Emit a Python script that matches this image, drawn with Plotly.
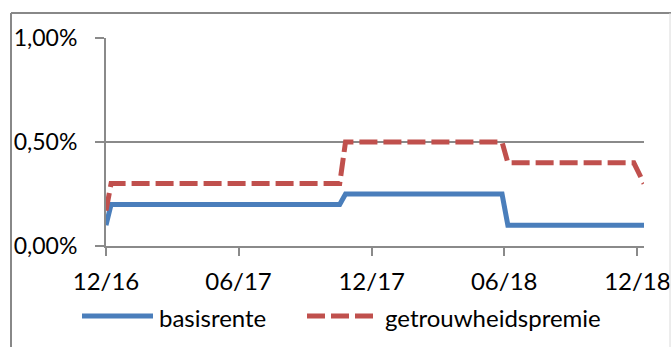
import plotly.graph_objects as go

# Interest rates (in %) at the dates where they change
basis_dates = ["2016-12-01", "2016-12-08", "2017-10-18", "2017-10-26",
               "2018-05-29", "2018-06-06", "2018-12-10"]
basis_rate = [0.10, 0.20, 0.20, 0.25, 0.25, 0.10, 0.10]

premie_dates = ["2016-12-01", "2016-12-08", "2017-10-18", "2017-10-26",
                "2018-05-29", "2018-06-06", "2018-11-26", "2018-12-10"]
premie_rate = [0.17, 0.30, 0.30, 0.50, 0.50, 0.40, 0.40, 0.30]

tick_dates = ["2016-12-01", "2017-06-01", "2017-12-01", "2018-06-01", "2018-12-01"]
tick_labels = ["12/16", "06/17", "12/17", "06/18", "12/18"]

y_ticks = [0, 0.5, 1]
y_labels = ["0,00%", "0,50%", "1,00%"]

series_names = ["basisrente", "getrouwheidspremie"]
BLUE = "#4A7EBB"
RED = "#C0504D"
GRID = "#8A8A8A"
FONT = "Lato"
FS = 24

W, H = 671, 347
L, R, T, B = 106, 644, 38, 246  # plot area in pixels


def px(x):
    return (x - L) / (R - L)


def py(y):
    return (B - y) / (B - T)


fig = go.Figure()
fig.add_trace(go.Scatter(x=basis_dates, y=basis_rate, mode="lines",
                         name=series_names[0],
                         line=dict(color=BLUE, width=5)))
fig.add_trace(go.Scatter(x=premie_dates, y=premie_rate, mode="lines",
                         name=series_names[1],
                         line=dict(color=RED, width=5, dash="18px,6px")))

shapes = [
    # chart border (left, top, right)
    dict(type="line", xref="paper", yref="paper", x0=px(11), x1=px(11),
         y0=py(13), y1=py(360), line=dict(color="#888888", width=2)),
    dict(type="line", xref="paper", yref="paper", x0=px(11), x1=px(672),
         y0=py(13), y1=py(13), line=dict(color="#888888", width=2)),
    dict(type="line", xref="paper", yref="paper", x0=px(670), x1=px(670),
         y0=py(13), y1=py(360), line=dict(color="#DADADA", width=1)),
    # legend samples
    dict(type="line", xref="paper", yref="paper", x0=px(82), x1=px(153),
         y0=py(316), y1=py(316), line=dict(color=BLUE, width=5)),
    dict(type="line", xref="paper", yref="paper", x0=px(307), x1=px(373),
         y0=py(316), y1=py(316), line=dict(color=RED, width=5, dash="18px,6px")),
]

annotations = [
    dict(xref="paper", yref="paper", x=px(157), y=py(317), text=series_names[0],
         showarrow=False, xanchor="left", yanchor="middle",
         font=dict(family=FONT, size=FS, color="black")),
    dict(xref="paper", yref="paper", x=px(383), y=py(317), text=series_names[1],
         showarrow=False, xanchor="left", yanchor="middle",
         font=dict(family=FONT, size=FS, color="black")),
]

fig.update_layout(
    width=W, height=H,
    margin=dict(l=L, r=W - R, t=T, b=H - B, pad=0),
    paper_bgcolor="white", plot_bgcolor="white",
    showlegend=False,
    hovermode=False,
    font=dict(family=FONT, size=FS, color="black"),
    shapes=shapes,
    annotations=annotations,
)
fig.update_xaxes(
    type="date", range=["2016-12-01", "2018-12-10"], automargin=False,
    tickmode="array", tickvals=tick_dates, ticktext=tick_labels,
    ticklabeloverflow="allow",
    showgrid=False, zeroline=False,
    showline=True, linecolor=GRID, linewidth=2,
    ticks="outside", ticklen=8, tickwidth=2, tickcolor=GRID,
    ticklabelstandoff=5,
)
fig.update_yaxes(
    range=[0, 1], automargin=False,
    tickmode="array", tickvals=y_ticks, ticktext=y_labels,
    tickfont=dict(family=FONT, size=23, color="black"),
    showgrid=True, gridcolor=GRID, gridwidth=2, zeroline=False,
    showline=True, linecolor=GRID, linewidth=2,
    ticks="outside", ticklen=9, tickwidth=2, tickcolor=GRID,
    ticklabelstandoff=13,
)

fig.write_html("out.html")
